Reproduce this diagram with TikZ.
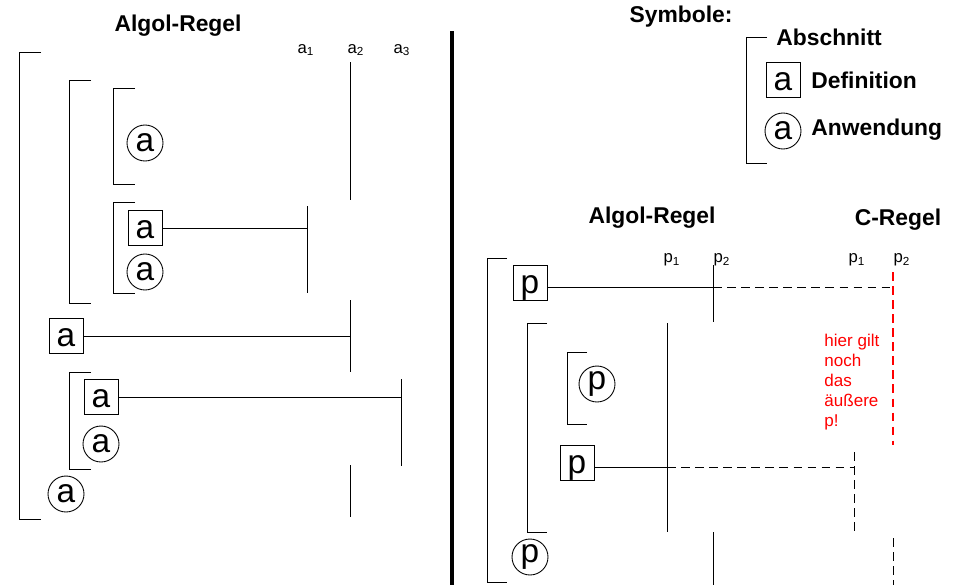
\documentclass[tikz,border=0pt]{standalone}
\usepackage{fontspec}
\setmainfont{Liberation Sans}
\usetikzlibrary{positioning}
\definecolor{hint}{RGB}{255,0,0}
\tikzset{defbox/.style={draw, rectangle, minimum width=0.68cm, inner sep=0pt,
  text height=16.2pt, text depth=4.2pt, font=\fontsize{19}{20}\selectfont},
usecirc/.style={draw, circle, minimum size=0.72cm, inner sep=0pt,
  font=\fontsize{19}{20}\selectfont},
heading/.style={font=\fontsize{13}{15}\selectfont\bfseries, inner sep=0pt},
legend/.style={anchor=west, font=\fontsize{13}{15}\selectfont\bfseries, inner sep=0pt},
idx/.style={font=\fontsize{9.5}{11}\selectfont, inner sep=0pt},
cdash/.style={dashed, dash pattern=on 5pt off 3pt}}

\begin{document}
\begin{tikzpicture}[x=0.02cm, y=-0.02cm, line width=0.5pt]
        \useasboundingbox (0,0) rectangle (964,585);

        % Algol-Regel, links
        \node[heading] (titleL) at (178,26) {Algol-Regel};
        \node[idx] (ia1) at (306,50) {a\textsubscript{1}};
        \node[idx] (ia2) at (356,50) {a\textsubscript{2}};
        \node[idx] (ia3) at (402,50) {a\textsubscript{3}};
        \draw[line width=2pt] (452,31) -- (452,585);

        \draw (41,52) -| (19,519) -- (41,519);
        \draw (91,80) -| (69,303) -- (91,303);
        \draw (135,88) -| (113,184) -- (135,184);
        \draw (135,202) -| (113,293) -- (135,293);
        \draw (91,372) -| (69,469) -- (91,469);

        \node[usecirc] (ua1) at (145,143) {a};
        \node[defbox] (da1) at (145,228) {a};
        \node[usecirc] (ua2) at (145,272) {a};
        \node[defbox] (da2) at (66,336) {a};
        \node[defbox] (da3) at (101,397) {a};
        \node[usecirc] (ua3) at (101,444) {a};
        \node[usecirc] (ua4) at (66,494) {a};

        \coordinate (sa2a) at (350,62);  \coordinate (sa2b) at (350,200);
        \coordinate (sa1a) at (307,206); \coordinate (sa1b) at (307,293);
        \coordinate (sa2c) at (350,300); \coordinate (sa2d) at (350,372);
        \coordinate (sa3a) at (401,379); \coordinate (sa3b) at (401,466);
        \coordinate (sa2e) at (350,465); \coordinate (sa2f) at (350,517);
        \draw (sa2a) -- (sa2b)
              (sa1a) -- (sa1b)
              (sa2c) -- (sa2d)
              (sa3a) -- (sa3b)
              (sa2e) -- (sa2f);
        \draw (da1.east) -- (da1 -| sa1a)
              (da2.east) -- (da2 -| sa2c)
              (da3.east) -- (da3 -| sa3a);

        % Symbole
        \node[heading] (titleS) at (681,17) {Symbole:};
        \draw (767,37) -| (746,163) -- (767,163);
        \node[legend] (lab) at (776,37) {Abschnitt};
        \node[defbox] (sdef) at (783,80) {a};
        \node[legend] (ldef) at (811,80) {Definition};
        \node[usecirc] (suse) at (783,131) {a};
        \node[legend] (luse) at (811,130) {Anwendung};

        % Algol-Regel und C-Regel, rechts
        \node[heading] (titleA) at (652,218) {Algol-Regel};
        \node[heading] (titleC) at (898,220) {C-Regel};
        \node[idx] (ip1) at (672,260) {p\textsubscript{1}};
        \node[idx] (ip2) at (722,260) {p\textsubscript{2}};
        \node[idx] (cp1) at (857,260) {p\textsubscript{1}};
        \node[idx] (cp2) at (902,260) {p\textsubscript{2}};

        \draw (507,258) -| (487,582) -- (507,582);
        \draw (547,323) -| (527,532) -- (547,532);
        \draw (587,352) -| (567,424) -- (587,424);

        \node[defbox] (dp1) at (530,283) {p};
        \node[usecirc] (up1) at (597,384) {p};
        \node[defbox] (dp2) at (577,463) {p};
        \node[usecirc] (up2) at (530,557) {p};

        \coordinate (sp2a) at (713,265); \coordinate (sp2b) at (713,322);
        \coordinate (sp1a) at (667,323); \coordinate (sp1b) at (667,532);
        \coordinate (sp2c) at (713,532); \coordinate (sp2d) at (713,585);
        \coordinate (cp2a) at (893,272); \coordinate (cp2b) at (893,445);
        \coordinate (cp1a) at (854,452); \coordinate (cp1b) at (854,532);
        \coordinate (cp2c) at (893,538); \coordinate (cp2d) at (893,585);
        \draw (sp2a) -- (sp2b)
              (sp1a) -- (sp1b)
              (sp2c) -- (sp2d);
        \draw[cdash, hint, line width=0.7pt] (cp2a) -- (cp2b);
        \draw[cdash] (cp1a) -- (cp1b)
                     (cp2c) -- (cp2d);

        \coordinate (j1) at (713,287);
        \coordinate (j2) at (667,467);
        \draw (dp1.east |- j1) -- (j1);
        \draw[cdash] (j1) -- (j1 -| cp2a);
        \draw (dp2.east |- j2) -- (j2);
        \draw[cdash] (j2) -- (j2 -| cp1a);

        \node[anchor=north west, inner sep=0pt, align=left, text=hint,
              font=\fontsize{9.7}{11.4}\selectfont] (note) at (824,334)
              {hier gilt\\noch\\das\\äußere\\p!};
    \end{tikzpicture}
\end{document}
